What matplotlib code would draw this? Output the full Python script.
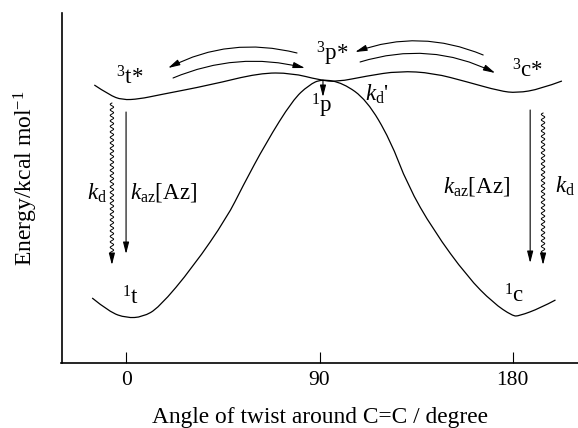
import numpy as np
import matplotlib.pyplot as plt
from matplotlib.path import Path
from matplotlib.patches import PathPatch

plt.rcParams['font.family'] = ['Liberation Serif', 'DejaVu Serif']
plt.rcParams['mathtext.fontset'] = 'custom'
plt.rcParams['mathtext.rm'] = 'Liberation Serif'
plt.rcParams['mathtext.it'] = 'Liberation Serif:italic'

# ground state (singlet) curve, angle in degrees vs energy (arbitrary)
s0_angle = [-16, -8, 0, 7.5, 15, 31, 47, 54, 65, 77.5, 85, 91, 101, 112, 123, 131, 143, 159, 171, 180, 183, 193, 200]
s0_energy = [6.5, 5.1, 4.5, 4.6, 5.5, 9.6, 14.6, 17.6, 22.0, 26.3, 27.8, 28.4, 28.0, 26.3, 22.3, 17.8, 13.3, 8.6, 6.0, 4.7, 4.7, 5.5, 6.3]

# triplet curve
t1_angle = [-15, -8, -2, 6, 15, 39, 62, 77, 90, 98, 112, 127, 143, 159, 174, 182, 193, 203]
t1_energy = [27.8, 26.8, 26.3, 26.4, 26.8, 27.8, 29.0, 29.0, 28.3, 28.1, 28.7, 29.2, 29.0, 28.1, 27.2, 27.0, 27.4, 28.2]

xticks = [0, 90, 180]


def smooth_curve(ax, xs, ys):
    # read points used as quadratic bezier control points
    verts = [(xs[0], ys[0])]
    codes = [Path.MOVETO]
    for i in range(1, len(xs) - 1):
        verts.append((xs[i], ys[i]))
        if i < len(xs) - 2:
            verts.append(((xs[i] + xs[i + 1]) / 2, (ys[i] + ys[i + 1]) / 2))
        else:
            verts.append((xs[-1], ys[-1]))
        codes += [Path.CURVE3, Path.CURVE3]
    ax.add_patch(PathPatch(Path(verts, codes), fill=False, lw=0.9, edgecolor='black'))


fig = plt.figure(figsize=(5.78, 4.28), dpi=100)
ax = fig.add_axes([61.5 / 578, 65 / 428, (578 - 61.5) / 578, 350 / 428])

smooth_curve(ax, s0_angle, s0_energy)
smooth_curve(ax, t1_angle, t1_energy)

ax.set_xlim(-30.3, 210.5)
ax.set_ylim(0, 35)
ax.set_xticks(xticks)
ax.set_xticklabels([str(t) for t in xticks], fontsize=15.5)
ax.set_yticks([])
ax.tick_params(axis='x', direction='in', length=8, width=0.8, pad=6)
ax.spines['top'].set_visible(False)
ax.spines['right'].set_visible(False)
ax.spines['left'].set_linewidth(1.2)
ax.spines['bottom'].set_linewidth(1.2)

ax.set_xlabel('Angle of twist around C=C / degree', fontsize=16.8, labelpad=12)
ax.set_ylabel(r'Energy/kcal mol$^{-1}$', fontsize=17)
ax.yaxis.set_label_coords(-0.042, 0.529)

# curved isomerisation arrows along the triplet surface
head = dict(arrowstyle='-|>,head_length=0.7,head_width=0.18', color='black', lw=0.8,
            shrinkA=0, shrinkB=0)
curved = [
    ((79.5, 31.0), (19.4, 29.5), 0.19),
    ((21.7, 28.5), (83.2, 29.5), -0.167),
    ((166.3, 30.8), (106.6, 31.1), 0.195),
    ((108.9, 30.1), (171.9, 29.0), -0.2),
]
for start, end, rad in curved:
    ax.annotate('', xy=end, xytext=start,
                arrowprops=dict(connectionstyle='arc3,rad=%s' % rad, **head))

# straight decay arrows
straight = [
    ((-0.2, 25.1), (-0.2, 10.9)),
    ((188.2, 25.3), (188.2, 10.0)),
    ((91.6, 28.3), (91.6, 26.6)),
]
for start, end in straight:
    ax.annotate('', xy=end, xytext=start, arrowprops=head)


# wavy (non radiative) arrows
def wavy(x, y0, y1):
    yy = np.linspace(y0, y1 + 0.9, 400)
    xx = x + 0.8 * np.sin((yy - y0) / 0.55 * 2 * np.pi)
    ax.plot(xx, yy, color='black', lw=0.7)
    ax.annotate('', xy=(x, y1), xytext=(x, y1 + 1.0), arrowprops=head)


wavy(-6.8, 26.0, 9.8)
wavy(194.2, 25.0, 9.8)

fs = 16.5
ax.text(1.6, 28.5, r'${}^{3}\mathrm{t}$*', fontsize=fs, ha='center', va='center')
ax.text(95.8, 30.9, r'${}^{3}\mathrm{p}$*', fontsize=fs, ha='center', va='center')
ax.text(187.2, 29.2, r'${}^{3}\mathrm{c}$*', fontsize=fs, ha='center', va='center')
ax.text(91.2, 25.7, r'${}^{1}\mathrm{p}$', fontsize=fs, ha='center', va='center')
ax.text(116.8, 26.9, r"$k_{\mathrm{d}}$'", fontsize=fs, ha='center', va='center')
ax.text(2.1, 6.5, r'${}^{1}\mathrm{t}$', fontsize=fs, ha='center', va='center')
ax.text(180.7, 6.7, r'${}^{1}\mathrm{c}$', fontsize=fs, ha='center', va='center')
ax.text(-13.8, 17.0, r'$k_{\mathrm{d}}$', fontsize=fs, ha='center', va='center')
ax.text(1.6, 17.0, r'$k_{\mathrm{az}}$[Az]', fontsize=fs, ha='left', va='center')
ax.text(178.8, 17.7, r'$k_{\mathrm{az}}$[Az]', fontsize=fs, ha='right', va='center')
ax.text(199.8, 17.7, r'$k_{\mathrm{d}}$', fontsize=fs, ha='left', va='center')

fig.savefig('out.png', dpi=100)
